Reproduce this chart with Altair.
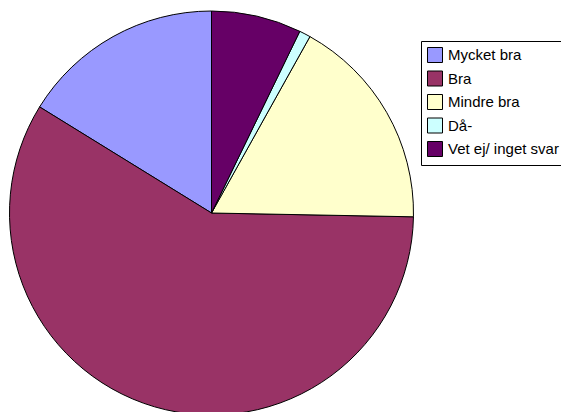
import altair as alt
import pandas as pd

categories = ["Mycket bra", "Bra", "Mindre bra", "Då-", "Vet ej/ inget svar"]
values = [16.2, 58.5, 17.2, 0.9, 7.2]
colors = ["#9999FF", "#993366", "#FFFFCC", "#CCFFFF", "#660066"]
# slices run counter-clockwise in legend order, i.e. the last category starts at 12 o'clock
stack_order = list(range(len(categories)))[::-1]

df = pd.DataFrame({"kategori": categories, "andel": values, "ordning": stack_order})

chart = (
    alt.Chart(df)
    .mark_arc(radius=202, stroke="black", strokeWidth=1)
    .encode(
        theta=alt.Theta("andel:Q", stack=True),
        order=alt.Order("ordning:Q", sort="ascending"),
        color=alt.Color(
            "kategori:N",
            scale=alt.Scale(domain=categories, range=colors),
            sort=categories,
            legend=alt.Legend(
                title=None,
                orient="none",
                legendX=413,
                legendY=33,
                fillColor="white",
                strokeColor="black",
                padding=6,
                symbolType="square",
                symbolSize=225,
                symbolStrokeColor="black",
                symbolStrokeWidth=1,
                symbolOpacity=1,
                labelFont="Liberation Sans",
                labelFontSize=15,
                labelColor="black",
                labelOffset=5,
                rowPadding=3.5,
            ),
        ),
        x=alt.value(203.5),
        y=alt.value(205),
    )
    .properties(
        width=553,
        height=404,
        autosize=alt.AutoSizeParams(type="none"),
        padding=0,
    )
    .configure_view(stroke=None)
)

chart.save("out.html", embed_options={"renderer": "svg", "actions": False})
